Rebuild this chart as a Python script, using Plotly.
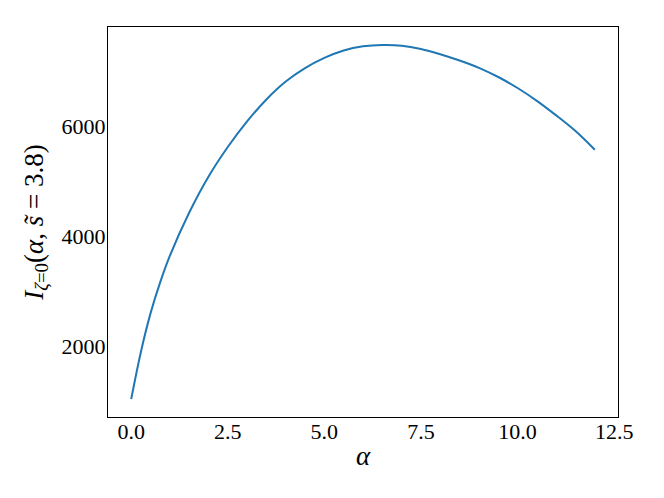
import plotly.graph_objects as go

alpha = [0, 0.25, 0.5, 0.75, 1.0, 1.5, 2.0, 2.5, 3.0, 3.5, 4.0, 4.5, 5.0, 5.5,
         6.0, 6.5, 7.0, 7.5, 8.0, 8.5, 9.0, 9.5, 10.0, 10.5, 11.0, 11.5, 12.0]
intensity = [1040, 1895, 2600, 3165, 3645, 4430, 5085, 5625, 6090, 6490, 6815,
             7060, 7245, 7380, 7455, 7480, 7468, 7408, 7312, 7197, 7064, 6898,
             6698, 6465, 6200, 5915, 5575]

x_ticks = [0.0, 2.5, 5.0, 7.5, 10.0, 12.5]
x_tick_labels = ["0.0", "2.5", "5.0", "7.5", "10.0", "12.5"]
y_ticks = [2000, 4000, 6000]
y_tick_labels = ["2000", "4000", "6000"]

font_family = "Liberation Serif"

fig = go.Figure()
fig.add_trace(go.Scatter(
    x=alpha, y=intensity, mode="lines", line_shape="spline",
    line=dict(color="#1f77b4", width=2), showlegend=False,
))

fig.update_layout(
    width=664, height=498,
    margin=dict(l=100, r=54, t=19, b=89),
    paper_bgcolor="white", plot_bgcolor="white",
    font=dict(family=font_family, size=22, color="black"),
)
fig.update_xaxes(
    range=[-0.6, 12.6], tickvals=x_ticks, ticktext=x_tick_labels,
    showgrid=False, zeroline=False,
    showline=True, linecolor="black", linewidth=1, mirror=True,
    ticks="", ticklabelstandoff=-5,
    title=dict(text="<i>α</i>", font=dict(size=27), standoff=2),
)
fig.update_yaxes(
    range=[716, 7807], tickvals=y_ticks, ticktext=y_tick_labels,
    showgrid=False, zeroline=False,
    showline=True, linecolor="black", linewidth=1, mirror=True,
    ticks="", ticklabelstandoff=-3,
    title=dict(text="<i>I</i><sub><i>ζ</i>=0</sub>(<i>α</i>, <i>s\u0303</i> = 3.8)",
               font=dict(size=27), standoff=10),
)

fig.write_html("out.html")
